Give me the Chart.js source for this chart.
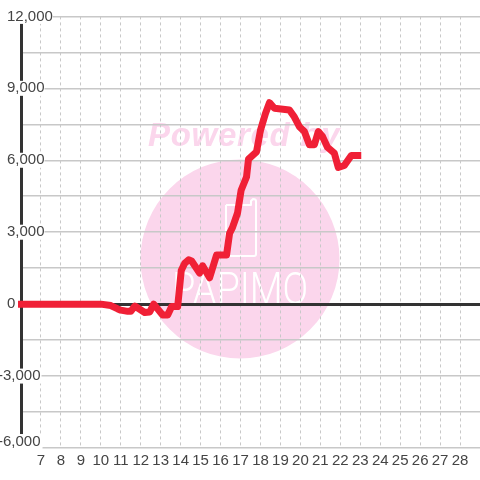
<!DOCTYPE html>
<html><head><meta charset="utf-8">
<style>html,body{margin:0;padding:0;background:#fff}#w{position:relative;width:480px;height:480px}</style>
<script src="https://cdn.jsdelivr.net/npm/chart.js@4"></script></head>
<body><div id="w"><canvas id="c" width="480" height="480"></canvas></div>
<script>
const xValues=[5.85,7,8,9,10,10.5,10.85,11,11.35,11.5,11.7,12.2,12.45,12.65,13.1,13.35,13.55,13.85,14.03,14.2,14.4,14.55,14.95,15.1,15.45,15.8,16.3,16.45,16.6,16.85,17.03,17.3,17.4,17.8,18,18.25,18.45,18.7,19.45,19.7,19.95,20.2,20.45,20.7,20.9,21.1,21.35,21.7,21.9,22.2,22.55,23.05];
const yValues=[0,0,0,0,0,-60,-200,-250,-300,-300,-80,-350,-330,0,-450,-450,-100,-100,1400,1700,1850,1800,1300,1600,1100,2050,2050,2950,3200,3800,4750,5300,6050,6350,7250,7950,8400,8170,8100,7800,7400,7200,6650,6650,7200,7000,6550,6300,5700,5780,6200,6200];
const yMin=-6000,yMax=12000,yStep=1500,labelStep=3000;
const xMin=6,xMax=29;
const fmt=v=>v.toLocaleString('en-US');
const textColor='#444444',gridColor='#c8c8c8',axisColor='#333333',lineColor='#f02036';
const font={family:'"Liberation Sans",Arial,sans-serif',size:15,lineHeight:1};
const noPad=s=>{s.paddingTop=0;s.paddingBottom=0;s.paddingLeft=0;s.paddingRight=0};
const watermark={id:'watermark',beforeDraw(ch){
  const c=ch.ctx;c.save();
  c.fillStyle='#fbd6ec';
  c.beginPath();c.arc(240,259,99.5,0,Math.PI*2);c.fill();
  c.font='italic bold 33px "Liberation Sans",sans-serif';
  c.letterSpacing='0.7px';c.textBaseline='alphabetic';c.textAlign='left';
  c.fillText('Powered by',148,146);
  c.letterSpacing='0px';
  c.strokeStyle='#ffffff';c.lineWidth=2;c.lineJoin='round';
  c.beginPath();c.moveTo(226,205);c.lineTo(226,254);c.quadraticCurveTo(226,256,228,256);c.lineTo(254,256);c.quadraticCurveTo(256,256,256,254);c.lineTo(256,201);c.quadraticCurveTo(256,199,253,199);c.lineTo(251,201);c.lineTo(251,205);c.lineTo(226,205);c.stroke();
  c.fillStyle='#ffffff';
  c.font='300 44px Roboto,sans-serif';
  c.translate(172,304);c.scale(0.86,1);
  c.fillText('PAPIMO',0,0);
  c.restore();
}};
const backdrop={showLabelBackdrop:true,backdropColor:'#ffffff'};
new Chart(document.getElementById('c'),{type:'line',
 data:{datasets:[{data:xValues.map((x,i)=>({x,y:yValues[i]})),borderColor:lineColor,borderWidth:7,pointRadius:0,tension:0,borderJoinStyle:'round',borderCapStyle:'butt',clip:false,xAxisID:'x',yAxisID:'y'}]},
 plugins:[watermark],
 options:{responsive:false,animation:false,
  layout:{padding:{top:16.4,right:0,bottom:0,left:0}},
  plugins:{legend:{display:false},tooltip:{enabled:false}},
  scales:{
   x:{type:'linear',min:xMin,max:xMax,
     afterFit(s){s.height=32;noPad(s)},
     grid:{color:gridColor,lineWidth:1,drawTicks:false},border:{display:false,dash:[3,3]},
     ticks:{stepSize:1,autoSkip:false,maxRotation:0,minRotation:0,padding:5,color:textColor,font,callback:v=>(v===xMin||v===xMax)?'':String(v)}},
   y:{type:'linear',min:yMin,max:yMax,position:'left',
     afterFit(s){s.width=21;noPad(s)},
     grid:{drawTicks:false,color:c=>c.tick.value===0?axisColor:gridColor,lineWidth:c=>c.tick.value===0?3:1.5},
     border:{color:axisColor,width:3},
     ticks:{stepSize:yStep,autoSkip:false,mirror:true,padding:-14,color:textColor,font,...backdrop,backdropPadding:{left:1,right:0,top:0,bottom:0},
       callback:v=>(v>=0&&v%labelStep===0)?fmt(v):''}},
   yNeg:{type:'linear',min:yMin,max:yMax,position:'left',
     afterFit(s){s.width=0;noPad(s)},
     grid:{display:false,drawTicks:false},border:{display:false},
     afterBuildTicks(s){s.ticks=s.ticks.filter(t=>t.value===-labelStep)},
     ticks:{stepSize:labelStep,autoSkip:false,mirror:true,z:1,padding:-2,color:textColor,font,...backdrop,backdropPadding:{left:1,right:1,top:0,bottom:0},
       callback:v=>fmt(v)}},
   yEnd:{type:'linear',min:yMin-270,max:yMax-270,position:'left',
     afterFit(s){s.width=0;noPad(s)},
     grid:{display:false,drawTicks:false},border:{display:false},
     afterBuildTicks(s){s.ticks=[{value:yMin}]},
     ticks:{autoSkip:false,mirror:true,z:1,padding:-2,color:textColor,font,...backdrop,backdropPadding:{left:1,right:2,top:0,bottom:2},
       callback:v=>fmt(v)}}
  }}});
</script></body></html>
